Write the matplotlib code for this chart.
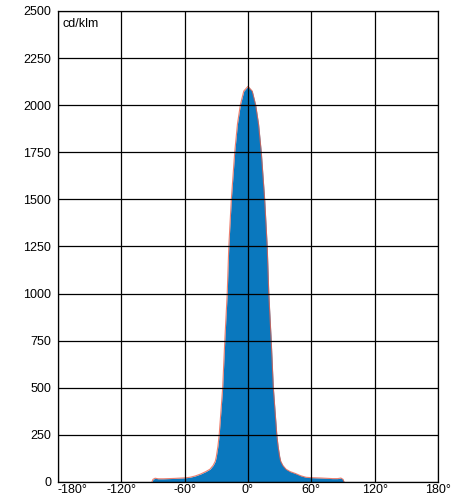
import matplotlib.pyplot as plt

plt.rcParams['font.family'] = ['Liberation Sans', 'DejaVu Sans']

# light distribution curve, cd/klm vs angle
angles = [-91, -90, -88, -85, -80, -70, -60, -55, -50, -45, -40, -36, -33, -31, -30,
          -28.5, -27.3, -24, -22, -19.7, -18.2, -15.8, -12.6, -10, -7.3, -4, 0,
          4, 7.3, 10, 12.6, 15.8, 18.2, 19.7, 22, 24, 27.3, 28.5,
          30, 31, 33, 36, 40, 45, 50, 55, 60, 70, 80, 85, 88, 90, 91]
values = [0, 14, 20, 17, 17, 19, 22, 25, 32, 42, 55, 68, 88, 110, 135,
          190, 250, 500, 750, 1000, 1250, 1500, 1750, 1900, 2000, 2075, 2100,
          2075, 2000, 1900, 1750, 1500, 1250, 1000, 750, 500, 250, 190,
          135, 110, 88, 68, 55, 45, 33, 25, 23, 21, 18, 18, 21, 14, 0]

xticks = [-180, -120, -60, 0, 60, 120, 180]
xticklabels = ["-180°", "-120°", "-60°", "0°", "60°", "120°", "180°"]
yticks = [0, 250, 500, 750, 1000, 1250, 1500, 1750, 2000, 2250, 2500]

fig = plt.figure(figsize=(4.59, 4.97), dpi=100)
ax = fig.add_axes([58 / 459, 15 / 497, 380 / 459, 471 / 497])

ax.fill_between(angles, values, 0, color="#0a78be", zorder=1, linewidth=0)
ax.plot(angles, values, color="#e8604c", linewidth=0.8, zorder=1.5, alpha=0.8)

ax.set_xlim(-180, 180)
ax.set_ylim(0, 2500)
ax.set_xticks(xticks)
ax.set_xticklabels(xticklabels)
ax.set_yticks(yticks)
ax.set_axisbelow(False)
ax.grid(True, color="black", linewidth=0.9)
ax.tick_params(length=0, labelsize=9)
ax.tick_params(axis="y", pad=5)
ax.tick_params(axis="x", pad=1.5)
ax.get_xticklabels()[0].set_horizontalalignment("left")
for s in ax.spines.values():
    s.set_color("black")
    s.set_linewidth(0.9)

ax.text(0.012, 0.985, "cd/klm", transform=ax.transAxes, ha="left", va="top", fontsize=9)

plt.savefig("out.png", dpi=100)
plt.close()
